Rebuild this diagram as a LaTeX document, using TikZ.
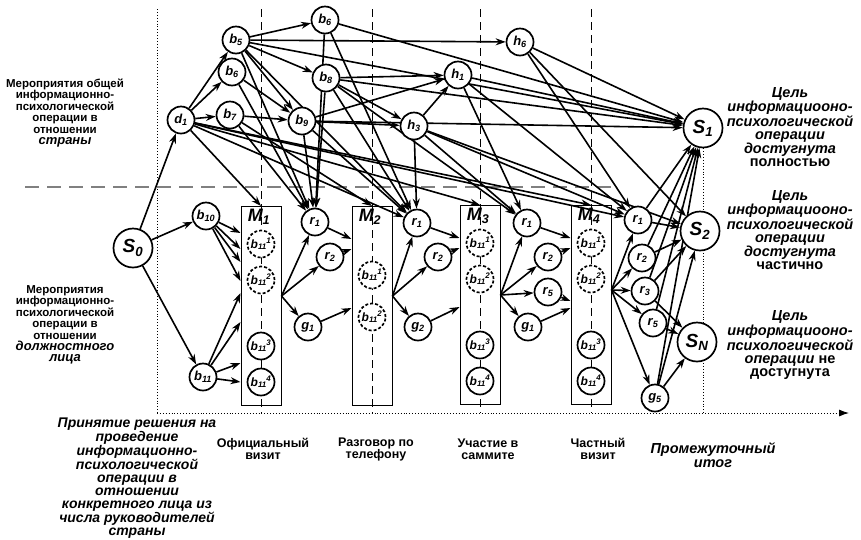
\documentclass[tikz,border=0pt]{standalone}
\usepackage{fontspec}
\setmainfont{Liberation Sans}
\usetikzlibrary{arrows.meta,backgrounds}
\tikzset{
  ver/.style={circle, draw, line width=1.7pt, fill=white, minimum size=27pt, inner sep=0pt, font=\bfseries\itshape\fontsize{13}{13}\selectfont},
  fin/.style={ver, minimum size=39pt, font=\bfseries\itshape\fontsize{19}{19}\selectfont},
  ghost/.style={ver, dash pattern=on 3pt off 2pt, font=\bfseries\itshape\fontsize{12}{12}\selectfont},
  box/.style={draw, line width=1pt, minimum width=40pt, minimum height=199pt, inner sep=0pt},
  ar/.style={line width=1.6pt, -{Stealth[length=10pt,width=7pt]}},
  lbl/.style={align=center, font=\bfseries\fontsize{11.5}{11.4}\selectfont},
  goal/.style={align=center, font=\bfseries\fontsize{14.5}{13}\selectfont},
}
\newcommand\vx[2]{#1\textsubscript{#2}}
\newcommand\bsup[1]{b\textsubscript{11}\kern-0.5pt\textsuperscript{#1}}
\begin{document}
\begin{tikzpicture}[x=1pt,y=-1pt]
\useasboundingbox (0,0) rectangle (861,539);
% upper level
\node[ver] (d1) at (181,120) {\vx{d}{1}};
\node[ver] (b5) at (236,40) {\vx{b}{5}};
\node[ver] (b6) at (232,72) {\vx{b}{6}};
\node[ver] (b7) at (230,115) {\vx{b}{7}};
\node[ver] (b9) at (302,121) {\vx{b}{9}};
\node[ver] (b8) at (326,78) {\vx{b}{8}};
\node[ver] (b6t) at (325,20) {\vx{b}{6}};
\node[ver] (h6) at (520,42) {\vx{h}{6}};
\node[ver] (h1) at (458,75) {\vx{h}{1}};
\node[ver] (h3) at (414,126) {\vx{h}{3}};
% lower level
\node[fin] (S0) at (133,248) {\vx{S}{0}};
\node[ver] (b10) at (206,216) {\vx{b}{10}};
\node[ver] (b11) at (203,377) {\vx{b}{11}};
\node[box] (M1) at (261,306) {};
\node[box] (M2) at (372,306) {};
\node[box] (M3) at (480,305) {};
\node[box] (M4) at (591,305) {};
\foreach \m in {1,2,3,4}
  \node[font=\bfseries\itshape\fontsize{18}{18}\selectfont, below=0pt] at ([xshift=-2pt]M\m.north) {\vx{M}{\m}};
\foreach \m in {1,3,4} {
  \node[ghost] (M\m u1) at ([yshift=62pt]M\m.center) {\bsup{1}};
  \node[ghost] (M\m u2) at ([yshift=26pt]M\m.center) {\bsup{2}};
  \node[ver, font=\bfseries\itshape\fontsize{12}{12}\selectfont] (M\m u3) at ([yshift=-40pt]M\m.center) {\bsup{3}};
  \node[ver, font=\bfseries\itshape\fontsize{12}{12}\selectfont] (M\m u4) at ([yshift=-76pt]M\m.center) {\bsup{4}};
}
\node[ghost] (M2u1) at ([yshift=31pt]M2.center) {\bsup{1}};
\node[ghost] (M2u2) at ([yshift=-11pt]M2.center) {\bsup{2}};
\node[ver] (r1a) at (315,222) {\vx{r}{1}};
\node[ver] (r2a) at (330,257) {\vx{r}{2}};
\node[ver] (g1a) at (308,327) {\vx{g}{1}};
\node[ver] (r1b) at (417,223) {\vx{r}{1}};
\node[ver] (r2b) at (438,257) {\vx{r}{2}};
\node[ver] (g2b) at (418,327) {\vx{g}{2}};
\node[ver] (r1c) at (527,223) {\vx{r}{1}};
\node[ver] (r2c) at (548,257) {\vx{r}{2}};
\node[ver] (r5c) at (548,292) {\vx{r}{5}};
\node[ver] (g1c) at (528,327) {\vx{g}{1}};
\node[ver] (r1d) at (638,220) {\vx{r}{1}};
\node[ver] (r2d) at (642,258) {\vx{r}{2}};
\node[ver] (r3d) at (645,291) {\vx{r}{3}};
\node[ver] (r5d) at (653,323) {\vx{r}{5}};
\node[ver] (g5d) at (655,398) {\vx{g}{5}};
% outcomes
\node[fin] (S1) at (703,128) {\vx{S}{1}};
\node[fin] (S2) at (700,231) {\vx{S}{2}};
\node[fin] (SN) at (697,342) {\vx{S}{N}};
\coordinate (ax0) at (157,413);
\coordinate (ax1) at (849,413);
\coordinate (top0) at (157,9);

\begin{scope}[on background layer]
\draw[dotted, line width=0.9pt] (top0) -- (ax0);
\draw[dotted, line width=0.9pt, -{Latex[length=10pt,width=7pt]}] (ax0) -- (ax1);
\draw[dotted, line width=0.9pt] (S1) -- (S1 |- ax0);
\draw[gray, line width=1.6pt, dash pattern=on 14pt off 8pt] (25,187) -- (617,187);
\foreach \m in {1,2,3,4}
  \draw[line width=0.9pt, dash pattern=on 8pt off 5pt] (M\m.center |- top0) -- (M\m.center |- ax0);
\foreach \a/\b in {S0/d1,S0/b10,S0/b11,d1/b5,d1/b6,d1/b7,d1/M1.north,d1/M3.north,d1/M4.north,d1/r1b,d1/r1d,
  b5/b6t,b5/h6,b5/b8,b5/b9,b5/r1a,b5/r1b,b5/S1,b6/b9,b6/r1a,b7/b9,b7/r1a,b7/M2.north,
  b6t/S1,b6t/r1a,b6t/r1b,b8/h1,b8/h3,b8/S1,b8/r1a,b8/r1b,b8/r1c,b9/h1,b9/h3,b9/r1a,b9/r1b,b9/S1,
  h3/h1,h3/r1b,h3/r1c,h3/r1d,h3/S2,h1/S1,h1/r1c,h1/r1d,h6/S1,h6/r1d,h6/S2,
  r1d/S1,r1d/S2,r2d/S1,r2d/S2,r3d/S1,r3d/S2,r3d/SN,r5d/S1,r5d/SN,g5d/S1,g5d/S2,g5d/SN}
  \draw[ar] (\a) -- (\b);
\foreach \s in {73,57,44,25} \draw[ar] (b10) -- ([yshift=\s pt]M1.west);
\foreach \s in {13,-16,-57,-76} \draw[ar] (b11) -- ([yshift=\s pt]M1.west);
\foreach \t in {r1a,r2a,g1a} \draw[ar] ([yshift=10pt]M1.east) -- (\t);
\foreach \t/\s in {r1a/67,r2a/57,g1a/-2} \draw[ar] (\t) -- ([yshift=\s pt]M2.west);
\foreach \t in {r1b,r2b,g2b} \draw[ar] ([yshift=10pt]M2.east) -- (\t);
\foreach \t/\s in {r1b/67,r2b/57,g2b/-2} \draw[ar] (\t) -- ([yshift=\s pt]M3.west);
\foreach \t in {r1c,r2c,r5c,g1c} \draw[ar] ([yshift=10pt]M3.east) -- (\t);
\foreach \t/\s in {r1c/67,r2c/57,r5c/4,g1c/-3} \draw[ar] (\t) -- ([yshift=\s pt]M4.west);
\foreach \t in {r1d,r2d,r3d,r5d,g5d} \draw[ar] ([yshift=15pt]M4.east) -- (\t);
\end{scope}

% texts
\node[lbl] (tcountry) at (65,113) {Мероприятия общей\\информационно-\\психологической\\операции в\\отношении\\\textit{\fontsize{13}{11.4}\selectfont страны}};
\node[lbl] (tperson) at (65,325) {Мероприятия\\информационно-\\психологической\\операции в\\отношении\\\textit{\fontsize{13}{11.4}\selectfont должностного}\\\textit{\fontsize{13}{11.4}\selectfont лица}};
\node[align=center, font=\bfseries\itshape\fontsize{14}{12.9}\selectfont] (tdecision) at (137,478) {Принятие решения на\\проведение\\информационно-\\психологической\\операции в\\отношении\\конкретного лица из\\числа руководителей\\страны};
\node[lbl, font=\bfseries\fontsize{12.5}{12}\selectfont] (tvisit) at (263,449) {Официальный\\визит};
\node[lbl, font=\bfseries\fontsize{12.5}{12}\selectfont] (tphone) at (376,449) {Разговор по\\телефону};
\node[lbl, font=\bfseries\fontsize{12.5}{12}\selectfont] (tsummit) at (488,449) {Участие в\\саммите};
\node[lbl, font=\bfseries\fontsize{12.5}{12}\selectfont] (tprivate) at (598,449) {Частный\\визит};
\node[align=center, font=\bfseries\itshape\fontsize{14.5}{14.5}\selectfont] (tresult) at (713,455) {Промежуточный\\итог};
\node[goal] (tfull) at (790,127) {\textit{Цель}\\\textit{информациооно-}\\\textit{психологической}\\\textit{операции}\\\textit{достугнута}\\полностью};
\node[goal] (tpart) at (790,230) {\textit{Цель}\\\textit{информациооно-}\\\textit{психологической}\\\textit{операции}\\\textit{достугнута}\\частично};
\node[goal] (tnone) at (790,345) {\textit{Цель}\\\textit{информациооно-}\\\textit{психологической}\\\textit{операции} не\\достугнута};
\end{tikzpicture}
\end{document}
